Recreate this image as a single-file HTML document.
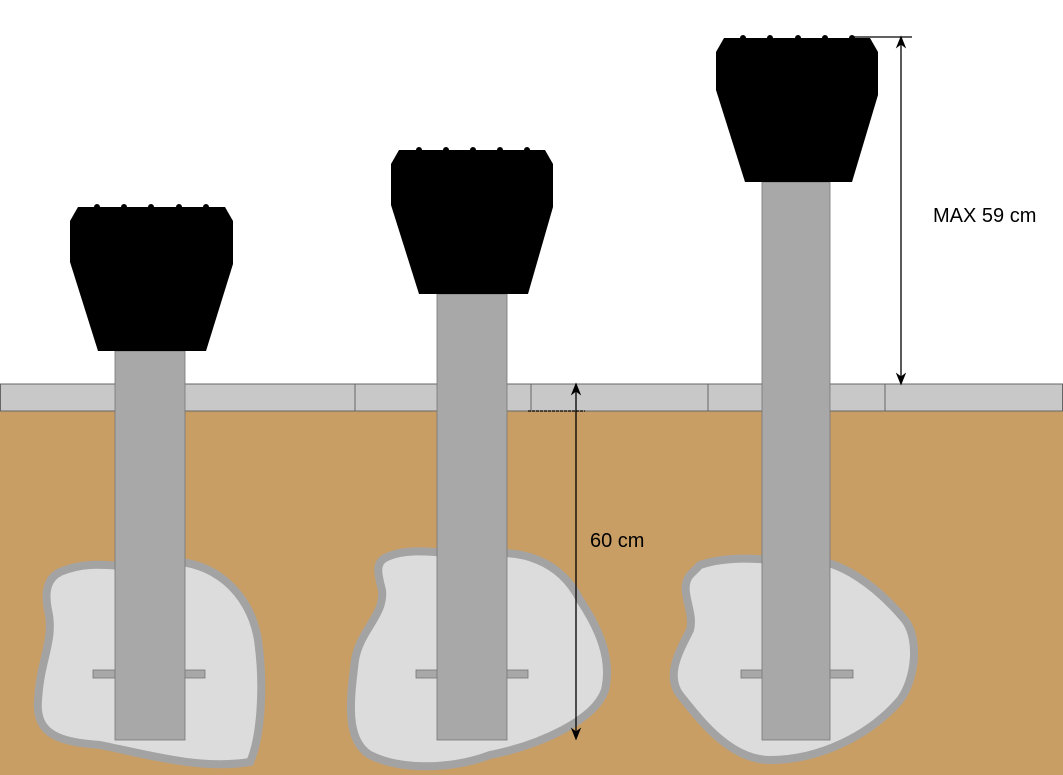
<!DOCTYPE html>
<html><head><style>body{margin:0;background:#fff}svg{display:block}</style></head>
<body>
<svg width="1063" height="775" viewBox="0 0 1063 775" xmlns="http://www.w3.org/2000/svg">
<defs><marker id="a" markerWidth="10" markerHeight="10" refX="5" refY="5" orient="auto-start-reverse"><path d="M0,1 L10,5 L0,9 L3,5z" fill="#000"/></marker></defs>
<rect x="0" y="411" width="1063" height="364" fill="#c99e65"/>
<rect x="0.5" y="384" width="1062" height="27" fill="#c8c8c8" stroke="#666" stroke-width="1"/>
<g stroke="#666" stroke-width="1"><line x1="355" y1="384" x2="355" y2="411"/><line x1="531" y1="384" x2="531" y2="411"/><line x1="708" y1="384" x2="708" y2="411"/><line x1="885" y1="384" x2="885" y2="411"/></g>
<g fill="#dcdcdc" stroke="#a3a3a3" stroke-width="8">
<path d="M60,572 C100,555 130,575 170,562 C210,560 250,590 258,640 C265,690 260,740 250,762 C200,770 150,755 100,745 C60,742 35,735 38,700 C40,660 55,640 48,610 C44,590 48,578 60,572Z"/>
<path d="M385,558 C410,545 450,555 480,555 C520,548 560,560 580,600 C600,630 612,660 605,690 C595,720 540,745 490,755 C450,770 400,770 370,755 C345,740 350,700 355,660 C360,630 385,615 382,590 C378,575 375,563 385,558Z"/>
<path d="M700,565 C735,553 770,562 800,560 C840,556 880,590 905,620 C920,640 915,680 900,700 C870,735 820,760 770,760 C730,760 700,720 680,695 C665,675 680,650 690,630 C695,610 678,590 690,575Z"/>
</g>
<g fill="#a9a8a9" stroke="#777" stroke-width="0.8">
<rect x="93" y="670" width="112" height="8"/><rect x="416" y="670" width="112" height="8"/><rect x="741" y="670" width="112" height="8"/>
<rect x="115" y="351" width="70" height="389"/><rect x="437" y="294" width="70" height="446"/><rect x="762" y="182" width="68" height="558"/>
</g>
<g fill="#000">
<path d="M78,207 L225,207 L233,221 L233,264 L206,351 L98,351 L70,262 L70,221Z"/>
<path d="M399,150 L545,150 L553,164 L553,207 L528,294 L419,294 L391,205 L391,164Z"/>
<path d="M724,38 L870,38 L878,52 L878,95 L852,182 L745,182 L716,90 L716,52Z"/>
<circle cx="97" cy="207" r="3"/><circle cx="124" cy="207" r="3"/><circle cx="151" cy="207" r="3"/><circle cx="179" cy="207" r="3"/><circle cx="206" cy="207" r="3"/>
<circle cx="419" cy="150" r="3"/><circle cx="446" cy="150" r="3"/><circle cx="473" cy="150" r="3"/><circle cx="500" cy="150" r="3"/><circle cx="527" cy="150" r="3"/>
<circle cx="743" cy="38" r="3"/><circle cx="770" cy="38" r="3"/><circle cx="798" cy="38" r="3"/><circle cx="825" cy="38" r="3"/><circle cx="852" cy="38" r="3"/>
</g>
<g stroke="#000" stroke-width="1.3">
<line x1="850" y1="37" x2="912" y2="37"/>
<line x1="901" y1="42" x2="901" y2="379" marker-start="url(#a)" marker-end="url(#a)"/>
<line x1="528" y1="411" x2="585" y2="411" stroke-dasharray="3,1"/>
<line x1="576" y1="389" x2="576" y2="734" marker-start="url(#a)" marker-end="url(#a)"/>
</g>
<text x="933" y="222" font-family="Liberation Sans, sans-serif" font-size="20">MAX 59 cm</text>
<text x="590" y="547" font-family="Liberation Sans, sans-serif" font-size="20">60 cm</text>
</svg>
</body></html>
